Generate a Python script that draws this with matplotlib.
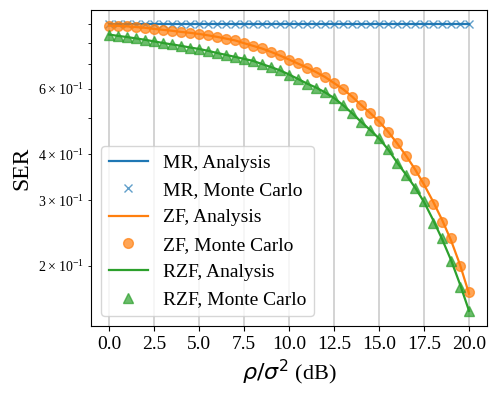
import numpy as np
import matplotlib
matplotlib.use("Agg")
import matplotlib.pyplot as plt

plt.rcParams["font.family"] = ["Liberation Serif", "DejaVu Serif"]

# SNR grid (dB)
snr_db = np.arange(0, 20.5, 0.5)

# MR
mr_analysis = [0.899] * 41
mr_mc = [0.8988, 0.8991, 0.8989, 0.8992, 0.8987, 0.8990, 0.8989, 0.8991, 0.8988, 0.8990,
         0.8992, 0.8989, 0.8987, 0.8990, 0.8991, 0.8988, 0.8990, 0.8989, 0.8992, 0.8988,
         0.8990, 0.8991, 0.8989, 0.8987, 0.8990, 0.8992, 0.8988, 0.8990, 0.8989, 0.8991,
         0.8988, 0.8990, 0.8992, 0.8989, 0.8987, 0.8990, 0.8991, 0.8988, 0.8990, 0.8989,
         0.8990]

# ZF
zf_analysis = [0.889, 0.888, 0.885, 0.881, 0.877, 0.871, 0.866, 0.861, 0.855, 0.850,
               0.844, 0.837, 0.829, 0.820, 0.811, 0.797, 0.784, 0.771, 0.755, 0.738,
               0.720, 0.702, 0.685, 0.666, 0.646, 0.622, 0.599, 0.572, 0.543, 0.517,
               0.490, 0.460, 0.428, 0.396, 0.364, 0.331, 0.298, 0.266, 0.234, 0.201,
               0.168]
zf_mc = [0.889, 0.888, 0.885, 0.881, 0.877, 0.871, 0.866, 0.861, 0.855, 0.850,
         0.844, 0.837, 0.829, 0.820, 0.811, 0.796, 0.784, 0.772, 0.755, 0.739,
         0.720, 0.703, 0.685, 0.666, 0.646, 0.622, 0.599, 0.572, 0.542, 0.518,
         0.491, 0.460, 0.428, 0.395, 0.363, 0.336, 0.294, 0.262, 0.237, 0.199,
         0.170]

# RZF
rzf_analysis = [0.841, 0.834, 0.828, 0.821, 0.814, 0.806, 0.798, 0.791, 0.784, 0.776,
                0.769, 0.760, 0.750, 0.741, 0.732, 0.723, 0.714, 0.700, 0.687, 0.673,
                0.656, 0.638, 0.620, 0.605, 0.587, 0.567, 0.542, 0.516, 0.489, 0.465,
                0.441, 0.412, 0.380, 0.352, 0.325, 0.297, 0.266, 0.236, 0.207, 0.178,
                0.151]
rzf_mc = [0.841, 0.834, 0.828, 0.821, 0.814, 0.806, 0.798, 0.791, 0.784, 0.776,
          0.769, 0.760, 0.750, 0.741, 0.732, 0.723, 0.714, 0.700, 0.687, 0.673,
          0.656, 0.638, 0.620, 0.605, 0.587, 0.567, 0.542, 0.516, 0.489, 0.465,
          0.441, 0.412, 0.378, 0.351, 0.325, 0.299, 0.261, 0.237, 0.206, 0.175,
          0.151]

fig = plt.figure(figsize=(4.98, 3.98), dpi=100)
ax = fig.add_axes([0.183, 0.181, 0.795, 0.794])

ax.plot(snr_db, mr_analysis, color="C0", lw=1.6, label="MR, Analysis")
ax.plot(snr_db, mr_mc, "x", color="C0", ms=6, alpha=0.7, label="MR, Monte Carlo")
ax.plot(snr_db, zf_analysis, color="C1", lw=1.6, label="ZF, Analysis")
ax.plot(snr_db, zf_mc, "o", color="C1", ms=7, alpha=0.7, label="ZF, Monte Carlo")
ax.plot(snr_db, rzf_analysis, color="C2", lw=1.6, label="RZF, Analysis")
ax.plot(snr_db, rzf_mc, "^", color="C2", ms=7, alpha=0.7, label="RZF, Monte Carlo")

ax.set_yscale("log")
ax.set_xlim(-1, 21)
ax.set_ylim(0.1375, 0.98)
ax.grid(True, axis="x", color="#cccccc", lw=1.2)
ax.set_xticks(np.arange(0, 20.1, 2.5))
ax.tick_params(axis="x", labelsize=14)
ax.set_xlabel(r"$\rho/\sigma^2$ (dB)", fontsize=16)
ax.set_ylabel("SER", fontsize=17)
ax.legend(loc="lower left", fontsize=14)

fig.savefig("out.png", dpi=100)
